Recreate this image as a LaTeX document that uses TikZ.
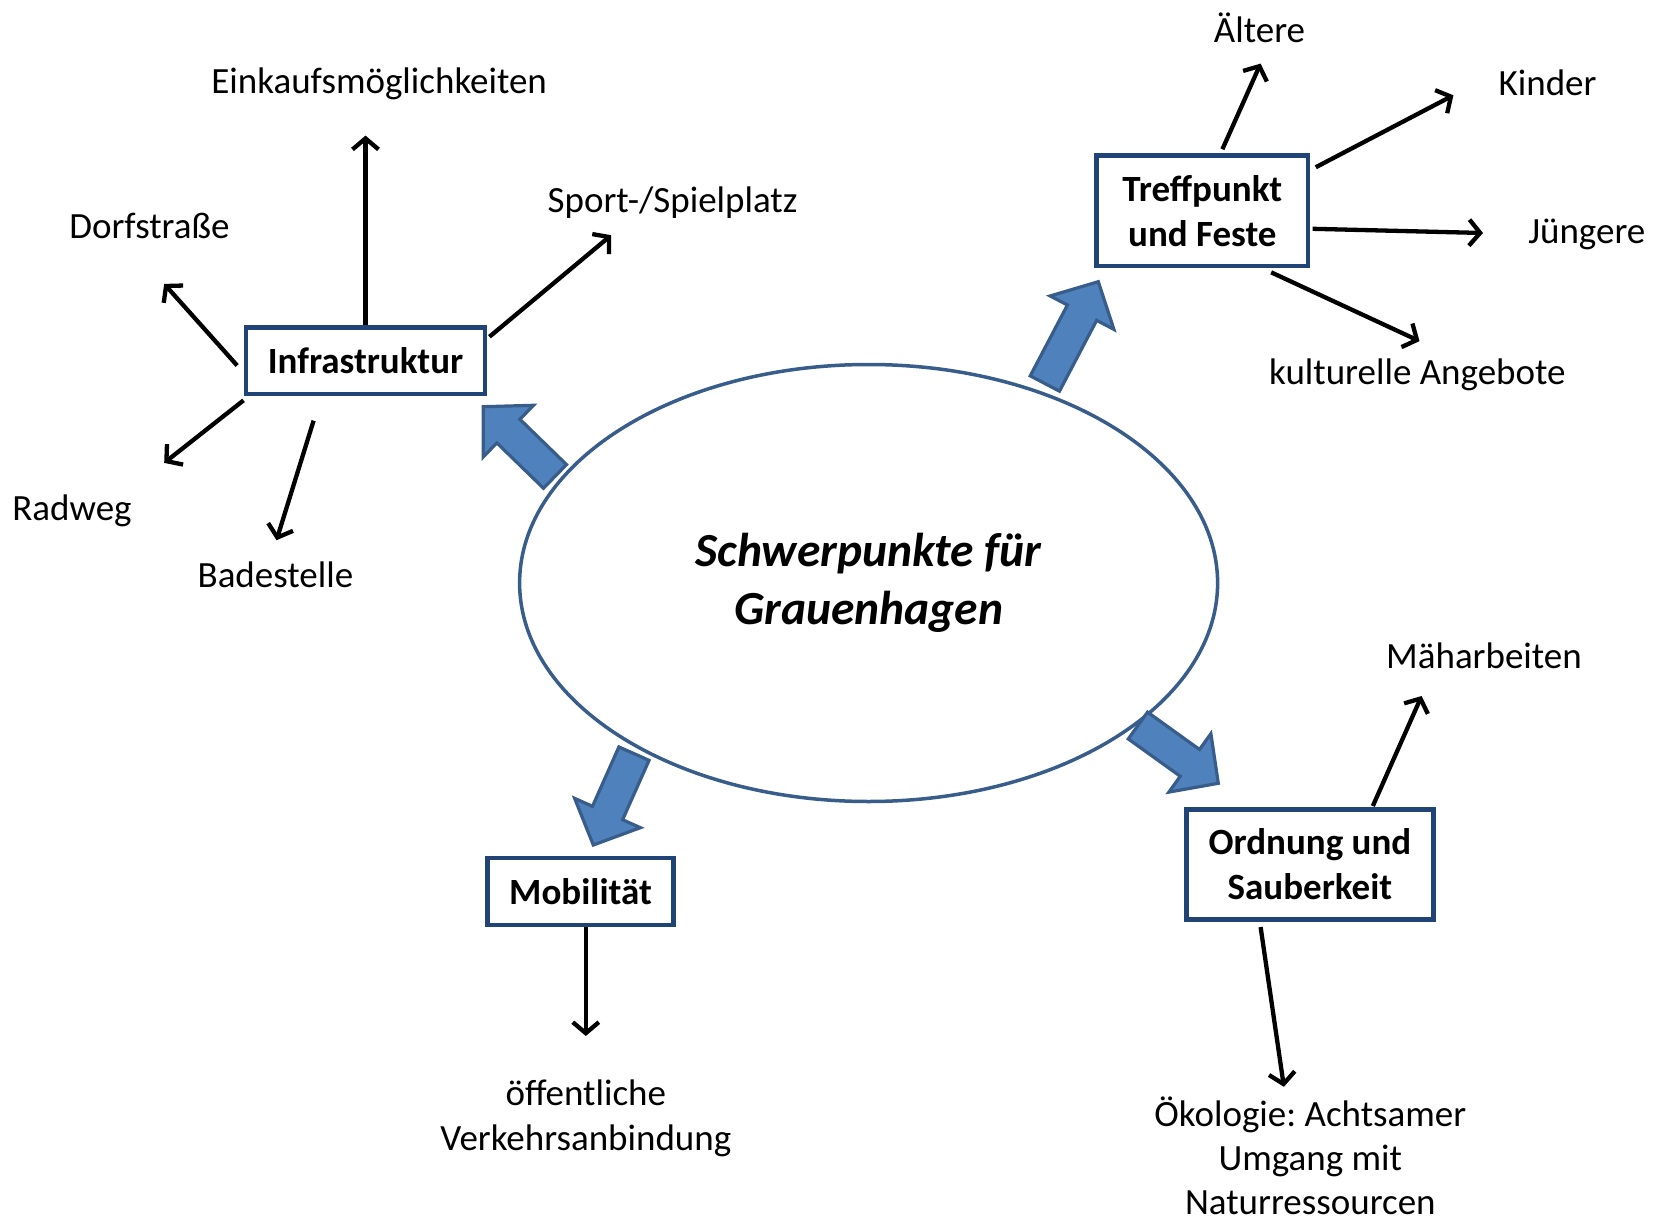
\documentclass[tikz,border=0pt]{standalone}
\usepackage{fontspec}
\setmainfont{Carlito}
\usetikzlibrary{arrows.meta,shapes.geometric,calc}
\definecolor{boxblue}{RGB}{32,68,118}
\definecolor{ellblue}{RGB}{56,93,138}
\definecolor{arrfill}{RGB}{79,129,189}
\definecolor{arroutline}{RGB}{56,93,138}
\frenchspacing
\begin{document}
\begin{tikzpicture}[x=1pt,y=-1pt,
  every node/.style={font=\fontsize{37}{45}\selectfont, inner sep=0pt},
  lbl/.style={align=center},
  topicbox/.style={draw=boxblue, line width=4.5pt, fill=white, align=center,
    font=\fontsize{37}{45}\selectfont\bfseries},
  mainell/.style={ellipse, draw=ellblue, line width=3.5pt, fill=white, align=center,
    minimum width=698pt, minimum height=437pt,
    font=\fontsize{47.5}{58}\selectfont\bfseries\itshape},
  conn/.style={line width=4.3pt, -{Straight Barb[length=11pt,width=26pt]}},
  bastyle/.style={fill=arrfill, draw=arroutline, line width=3.2pt, line join=miter},
  pics/bigarrow/.style={code={
    \draw[bastyle] (0,0) -- (-35,36) -- (-35,16.5) -- (-#1,16.5) -- (-#1,-16.5)
      -- (-35,-16.5) -- (-35,-36) -- cycle;}}
]
\useasboundingbox (0,0) rectangle (1661,1222);

% central ellipse
\node[mainell] (ell) at (868.6,583) {Schwerpunkte für\\Grauenhagen};

% block arrows
\pic[rotate=135.8] at (483.3,406.7) {bigarrow=100};
\pic[rotate=62.3] at (1098.3,281.7) {bigarrow=115};
\pic[rotate=-114] at (593.3,845) {bigarrow=100};
\pic[rotate=-35.7] at (1218.3,783.3) {bigarrow=99};

% topic boxes
\node[topicbox, minimum width=239.4pt, minimum height=66.8pt] (infra) at (365.5,360.7) {Infrastruktur};
\node[topicbox, minimum width=211.8pt, minimum height=110.2pt] (treff) at (1202.3,210.8) {Treffpunkt\\und Feste};
\node[topicbox, minimum width=186.4pt, minimum height=66.8pt] (mob) at (580.5,891.4) {Mobilität};
\node[topicbox, minimum width=246.9pt, minimum height=110.2pt] (ord) at (1309.9,864.4) {Ordnung und\\Sauberkeit};

% labels
\node[lbl] (einkauf) at (379.2,83.5) {Einkaufsmöglichkeiten};
\node[lbl] (dorf) at (149.4,225.6) {Dorfstraße};
\node[lbl] (sport) at (672.6,202.5) {Sport-/Spielplatz};
\node[lbl] (rad) at (72,511) {Radweg};
\node[lbl] (bade) at (275.4,575.2) {Badestelle};
\node[lbl] (aelt) at (1259.5,27.5) {Ältere};
\node[lbl] (kind) at (1547.6,82.6) {Kinder};
\node[lbl] (jung) at (1586.8,234) {Jüngere};
\node[lbl] (kult) at (1417.3,375) {kulturelle Angebote};
\node[lbl] (maeh) at (1484,655.7) {Mäharbeiten};
\node[lbl] (oeff) at (585.8,1118.5) {öffentliche\\Verkehrsanbindung};
\node[lbl, font=\fontsize{37}{44}\selectfont] (oeko) at (1310.3,1156) {Ökologie: Achtsamer\\Umgang mit\\Naturressourcen};

% free arrow ends
\coordinate (eEin) at (365.5,135.6);
\coordinate (eDorf) at (164.2,283.9);
\coordinate (eSport) at (611.2,235.2);
\coordinate (eRad) at (164.2,462.9);
\coordinate (eBade) at (276.5,540.2);
\coordinate (eAelt) at (1260.6,63.6);
\coordinate (eKind) at (1453.4,95.3);
\coordinate (eJung) at (1483,233);
\coordinate (eKult) at (1419.5,341.1);
\coordinate (eOeff) at (585.8,1036);
\coordinate (eMaeh) at (1421.6,696);
\coordinate (eOeko) at (1283.9,1086.8);

% connectors
\draw[conn] (infra.north) -- (eEin);
\draw[conn] ($(infra.west)+(-6.4,4.8)$) -- (eDorf);
\draw[conn] ($(infra.north east)+(2,11.7)$) -- (eSport);
\draw[conn] ($(infra.south west)+(0,4)$) -- (eRad);
\draw[conn] ($(infra.south)+(-51.9,24.3)$) -- (eBade);
\draw[conn] ($(treff.north)+(20.1,-4.2)$) -- (eAelt);
\draw[conn] ($(treff.north east)+(5.3,13.8)$) -- (eKind);
\draw[conn] ($(treff.east)+(2.1,18)$) -- (eJung);
\draw[conn] ($(treff.south)+(68.9,4.2)$) -- (eKult);
\draw[conn] ($(mob.south)+(5.3,0)$) -- (eOeff);
\draw[conn] ($(ord.north)+(62.9,-1)$) -- (eMaeh);
\draw[conn] ($(ord.south)+(-49.3,5.3)$) -- (eOeko);
\end{tikzpicture}
\end{document}
